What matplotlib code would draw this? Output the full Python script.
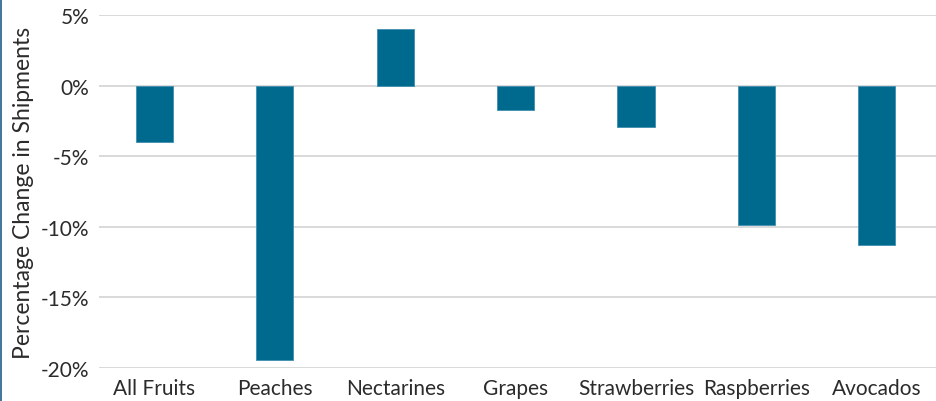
import matplotlib.pyplot as plt
from matplotlib.lines import Line2D
from matplotlib.ticker import FuncFormatter

fruits = ['All Fruits', 'Peaches', 'Nectarines', 'Grapes', 'Strawberries', 'Raspberries', 'Avocados']
change = [-4.0, -19.4, 4.0, -1.7, -2.9, -9.9, -11.3]

plt.rcParams['font.family'] = ['Lato', 'DejaVu Sans']

fig = plt.figure(figsize=(9.37, 4.02), dpi=100)
ax = fig.add_axes([99 / 937, 1 - 369 / 402, 1 - 99 / 937, (369 - 16) / 402])

ax.bar(range(len(fruits)), change, width=0.31, color='#006a8e',
       edgecolor='#3f8db0', linewidth=0.6, zorder=3)

ax.set_ylim(-20, 5)
ax.set_xlim(-0.46, 6.5)
ax.set_yticks(range(-20, 6, 5))
ax.yaxis.set_major_formatter(FuncFormatter(lambda v, p: f'{v:.0f}%'))
ax.set_xticks(range(len(fruits)))
ax.set_xticklabels(fruits)

ax.grid(axis='y', color='#d9d9d9', linewidth=1.4, zorder=0)
for s in ax.spines.values():
    s.set_visible(False)
ax.tick_params(length=0, labelsize=15, colors='#2b2b2b')
ax.tick_params(axis='y', pad=7)
ax.tick_params(axis='x', pad=7)
ax.set_ylabel('Percentage Change in Shipments', fontsize=16.5, color='#2b2b2b', labelpad=5)

# thin frame line at the left edge
fig.add_artist(Line2D([0.001, 0.001], [0, 1], color='#1f5f8a', linewidth=1.2))

fig.savefig('out.png', dpi=100)
